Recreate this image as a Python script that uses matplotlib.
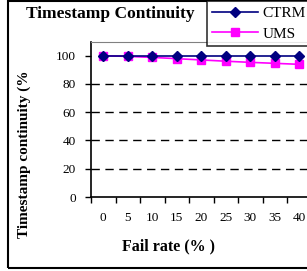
import matplotlib
matplotlib.use('Agg')
import matplotlib.pyplot as plt
from matplotlib.patches import Rectangle

fail_rate = ['0', '5', '10', '15', '20', '25', '30', '35', '40']
ctrm = [100, 100, 100, 100, 100, 100, 100, 100, 100]
ums = [100, 99.5, 98.8, 97.9, 97.0, 96.1, 95.3, 94.6, 93.9]
y_ticks = [0, 20, 40, 60, 80, 100]

W, H = 307, 271
plt.rcParams['font.family'] = ['Liberation Serif', 'DejaVu Serif']

fig = plt.figure(figsize=(W / 100, H / 100), dpi=100)

# plot area in pixel terms
left, right, top, bottom = 91, 311.5, 42, 197
ax = fig.add_axes([left / W, 1 - bottom / H, (right - left) / W, (bottom - top) / H])

x = list(range(len(fail_rate)))
ax.plot(x, ctrm, color='#000080', marker='D', markersize=5, linewidth=1.2,
        label='CTRM', zorder=4)
ax.plot(x, ums, color='#FF00FF', marker='s', markersize=6, linewidth=1.2,
        label='UMS', zorder=3)

ax.set_xlim(-0.5, len(fail_rate) - 0.5)
ax.set_ylim(0, 109.7)

for v in y_ticks[1:-1]:
    ax.axhline(v, color='black', linestyle=(0, (6, 4)), linewidth=1, zorder=1)

ax.set_yticks(y_ticks)
ax.set_yticklabels([str(v) for v in y_ticks], fontsize=9.5)
ax.tick_params(axis='y', direction='out', length=4, width=1, pad=7)

ax.set_xticks(x)
ax.set_xticklabels(fail_rate, fontsize=9.5)
ax.set_xticks([i - 0.5 for i in range(len(fail_rate) + 1)], minor=True)
ax.tick_params(axis='x', which='major', length=0, pad=11)
ax.tick_params(axis='x', which='minor', direction='out', length=4, width=1)

ax.spines['left'].set_color('black')
ax.spines['bottom'].set_color('black')
ax.spines['left'].set_linewidth(1.2)
ax.spines['bottom'].set_linewidth(1.2)
ax.spines['top'].set_color('#808080')
ax.spines['right'].set_visible(False)

fig.text(26 / W, 1 - 14 / H, 'Timestamp Continuity', fontsize=12.5,
         fontweight='bold', va='center', ha='left')
fig.text(169 / W, 1 - 246 / H, 'Fail rate (% )', fontsize=11.5,
         fontweight='bold', va='center', ha='center')
fig.text(24 / W, 1 - 154 / H, 'Timestamp continuity (%', fontsize=11,
         fontweight='bold', va='center', ha='center', rotation=90)

leg = fig.legend(loc='upper left', bbox_to_anchor=(207 / W, 1 - 1 / H),
                 fontsize=11, frameon=True, fancybox=False,
                 handlelength=3.0, borderpad=0.35, labelspacing=0.45,
                 handletextpad=0.3, borderaxespad=0)
leg.get_frame().set_edgecolor('black')
leg.get_frame().set_linewidth(1.2)

# outer chart border
fig.patches.append(Rectangle((8 / W, 1 - 268 / H), 1.2, (267 / H),
                             transform=fig.transFigure, fill=False,
                             edgecolor='black', linewidth=1.5))

fig.savefig('out.png', dpi=100)
